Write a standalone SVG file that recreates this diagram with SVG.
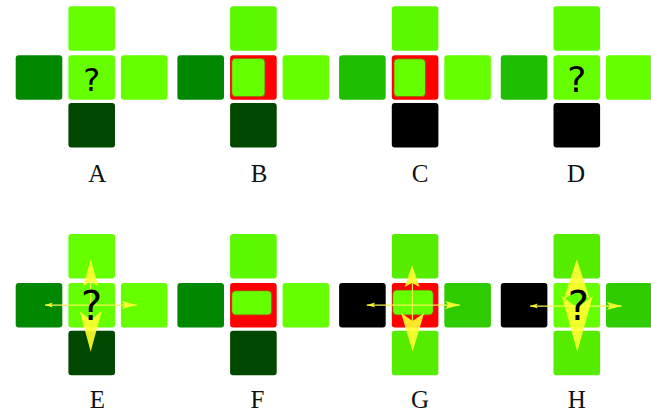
<svg xmlns="http://www.w3.org/2000/svg" width="651" height="412" viewBox="0 0 651 412">
<style>
  .lg{fill:#66ff00}
  .lg2{fill:#5cf800}
  .lg3{fill:#55ec00}
  .dg{fill:#008800}
  .vd{fill:#004800}
  .mg{fill:#1ebf00}
  .mg2{fill:#2ecc00}
  .bk{fill:#000000}
  .rd{fill:#ff0000}
  .in{fill:#66ff00;stroke:#b03a00;stroke-width:0.8}
  .q{font-family:"DejaVu Sans","Liberation Sans",sans-serif;fill:#000;text-anchor:middle}
  .lab{font-family:"Liberation Serif","Times New Roman",serif;font-size:25px;fill:#111;text-anchor:middle}
  .ar{fill:#ffff30;fill-opacity:0.9}
  .ln{stroke:#f4f455;stroke-width:1.1;fill:none}
</style>
<defs>
  <rect id="L" x="-76" y="-22" width="46.6" height="44.5" rx="3"/>
  <rect id="C" x="-23.3" y="-22" width="46.6" height="44.5" rx="3"/>
  <rect id="R" x="29.2" y="-22" width="46.6" height="44.5" rx="3"/>
  <rect id="T" x="-23.3" y="-71" width="46.6" height="44.5" rx="3"/>
  <rect id="B" x="-23.3" y="25.7" width="46.6" height="44.5" rx="3"/>
</defs>

<g id="panelA" transform="translate(91.7,77.2)">
  <use href="#T" class="lg"/><use href="#L" class="dg"/><use href="#C" class="lg"/><use href="#R" class="lg"/><use href="#B" class="vd"/>
</g>
<g id="panelB" transform="translate(253.4,77.2)">
  <use href="#T" class="lg2"/><use href="#L" class="dg"/><use href="#C" class="rd"/>
  <rect class="in" x="-21.7" y="-18.9" width="33.3" height="38.4" rx="4"/>
  <use href="#R" class="lg"/><use href="#B" class="vd"/>
</g>
<g id="panelC" transform="translate(415.1,77.2)">
  <use href="#T" class="lg2"/><use href="#L" class="mg"/><use href="#C" class="rd"/>
  <rect class="in" x="-21.2" y="-18.4" width="31.6" height="37.9" rx="4"/>
  <use href="#R" class="lg"/><use href="#B" class="bk"/>
</g>
<g id="panelD" transform="translate(576.8,77.2)">
  <use href="#T" class="lg2"/><use href="#L" class="mg"/><use href="#C" class="lg"/><use href="#R" class="lg"/><use href="#B" class="bk"/>
</g>
<g id="panelE" transform="translate(91.7,305.1)">
  <use href="#T" class="lg"/><use href="#L" class="dg"/><use href="#C" class="lg"/><use href="#R" class="lg"/><use href="#B" class="vd"/>
</g>
<g id="panelF" transform="translate(253.4,305.1)">
  <use href="#T" class="lg2"/><use href="#L" class="dg"/><use href="#C" class="rd"/>
  <rect class="in" x="-21.7" y="-14.4" width="40" height="24.3" rx="4"/>
  <use href="#R" class="lg"/><use href="#B" class="vd"/>
</g>
<g id="panelG" transform="translate(415.1,305.1)">
  <use href="#T" class="lg3"/><use href="#L" class="bk"/><use href="#C" class="rd"/>
  <rect class="in" x="-22.4" y="-15.1" width="40.6" height="25" rx="4"/>
  <use href="#R" class="mg2"/><use href="#B" class="lg3"/>
</g>
<g id="panelH" transform="translate(576.8,305.1)">
  <use href="#T" class="lg3"/><use href="#L" class="bk"/><use href="#C" class="lg"/><use href="#R" class="mg2"/><use href="#B" class="lg3"/>
</g>

<g id="connectors">
  <g id="arrowsE" transform="translate(91.7,305.1)">
    <path class="ln" d="M-1,-24 L-1,14"/>
    <path class="ln" d="M-46.7,0 L45,0"/>
    <path class="ar" d="M-1,-45.8 L6.5,-19 L-1,-23.5 L-8.5,-19 Z"/>
    <path class="ar" d="M-1,46.6 L10,6 L-1,15 L-12,6 Z"/>
    <path class="ar" d="M-46.7,0 L-39,-2.5 L-40.5,0 L-39,2.5 Z"/>
    <path class="ar" d="M45,0 L30,-4 L33,0 L30,4 Z"/>
  </g>
  <g id="arrowsG" transform="translate(415.1,305.1)">
    <path class="ln" d="M-2.7,-22 L-2.7,16"/>
    <path class="ln" d="M-48.4,0 L44.9,0"/>
    <path class="ar" d="M-3,-40 L4.5,-18 L-3,-22 L-10.5,-18 Z"/>
    <path class="ar" d="M-2.5,46.6 L9,8 L-2.5,16 L-14,8 Z"/>
    <path class="ar" d="M-48.4,0 L-40,-2.5 L-41.5,0 L-40,2.5 Z"/>
    <path class="ar" d="M44.9,0 L30,-4 L33,0 L30,4 Z"/>
  </g>
  <g id="arrowsH" transform="translate(576.8,305.1)">
    <path class="ln" d="M-46.8,1 L44.9,1"/>
    <path class="ar" d="M0,-45.8 L13,-6 L0,-14 L-13,-6 Z"/>
    <path class="ar" d="M0.5,46.6 L16,-9 L0.5,3 L-15,-9 Z"/>
    <path class="ar" d="M-46.8,1 L-39,-1.5 L-40.5,1 L-39,3.5 Z"/>
    <path class="ar" d="M44.9,1 L30,-3 L33,1 L30,5 Z"/>
  </g>
</g>

<g id="marks">
  <text class="q" x="91.7" y="91" font-size="32">?</text>
  <text class="q" x="576.8" y="91.5" font-size="36">?</text>
  <text class="q" x="91.5" y="320" font-size="40">?</text>
  <text class="q" x="578.3" y="320" font-size="40">?</text>
</g>

<g id="labels">
  <text class="lab" x="97.2" y="181.5">A</text>
  <text class="lab" x="259" y="181.5">B</text>
  <text class="lab" x="420" y="181.5">C</text>
  <text class="lab" x="576" y="181.5">D</text>
  <text class="lab" x="97.5" y="408">E</text>
  <text class="lab" x="257.5" y="408">F</text>
  <text class="lab" x="420" y="408">G</text>
  <text class="lab" x="576.7" y="408">H</text>
</g>
</svg>
